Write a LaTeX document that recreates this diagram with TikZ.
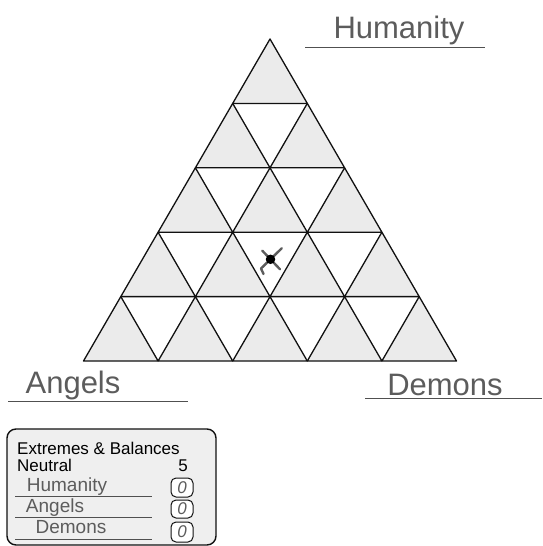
\documentclass[tikz,border=0pt]{standalone}
\usepackage{fontspec}
\setmainfont{Liberation Sans}
\usetikzlibrary{positioning}
\definecolor{Ink}{HTML}{111111}
\definecolor{Cell}{HTML}{EBEBEB}
\definecolor{Panel}{HTML}{EFEFEF}
\definecolor{Pencil}{HTML}{5C5C5C}
\definecolor{Rule}{HTML}{505050}
\tikzset{
  cell/.style={fill=Cell,draw=Ink,line width=1.3pt,line join=round},
  hand/.style={font=\fontsize{31}{31}\selectfont,text=Pencil,inner sep=0pt,anchor=base},
  handsm/.style={hand,font=\fontsize{19}{19}\selectfont},
  uline/.style={draw=Rule,line width=1pt},
  panel/.style={draw=Ink,line width=1.4pt,fill=Panel,rounded corners=9pt},
  txt/.style={font=\fontsize{17}{18}\selectfont,inner sep=0pt,anchor=base west},
  countbox/.style={draw=Ink,line width=1pt,fill=white,rounded corners=5pt,minimum width=22pt,inner sep=0pt,font=\fontsize{17}{17}\selectfont\itshape,text=Pencil},
  pen/.style={draw=Pencil,line width=2.4pt,line cap=round,line join=round}
}
\begin{document}
\begin{tikzpicture}[x=1pt,y=-1pt]
  \useasboundingbox (0,0) rectangle (542,546);
  % up-pointing cells, the white ones are what is left
  \foreach \r in {0,...,4}
    \foreach \k in {0,...,\r}
      \filldraw[cell] ({270+(\k-\r/2)*74.6},{39+\r*64.4}) -- ++(-37.3,64.4) -- ++(74.6,0) -- cycle;
  % token
  \coordinate (tok) at (270.5,259.3);
  \draw[pen] (262.3,250.7) -- (tok) -- (281.7,248.3);
  \draw[pen] (280,269.3) -- (tok) -- (261,268.5) -- (263.5,274);
  \node[circle,fill=black,minimum size=9.5pt,inner sep=0pt] (token) at (tok) {};
  % corner labels
  \node[hand] (hum) at (399,38) {Humanity};
  \draw[uline] (305,47) -- (485,47);
  \node[hand] (ang) at (73,393) {Angels};
  \draw[uline] (8,401) -- (188,401);
  \node[hand] (dem) at (445,395) {Demons};
  \draw[uline] (365,398) -- (542,398);
  % tally panel
  \draw[panel] (7,429) rectangle (216,545);
  \node[txt] (ttl) at (17,454) {Extremes \& Balances};
  \node[txt] (neu) at (17,471) {Neutral};
  \node[txt,anchor=base east] (nval) at (188,471) {5};
  \node[handsm] (hhum) at (67,491) {Humanity};
  \draw[uline] (15,496) -- (152,496);
  \node[countbox,minimum height=19pt] (chum) at (182,487.5) {0};
  \node[handsm] (hang) at (55,512) {Angels};
  \draw[uline] (15,517) -- (152,517);
  \node[countbox,minimum height=18pt] (cang) at (182,509) {0};
  \node[handsm] (hdem) at (71,533) {Demons};
  \draw[uline] (15,539) -- (152,539);
  \node[countbox,minimum height=20pt] (cdem) at (182,532) {0};
\end{tikzpicture}
\end{document}
